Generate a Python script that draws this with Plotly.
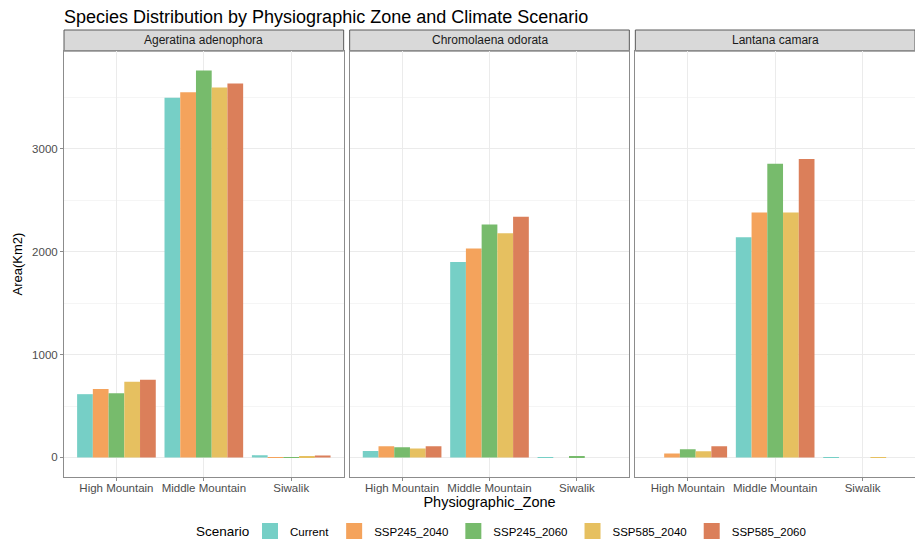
import plotly.graph_objects as go
from plotly.subplots import make_subplots

# Area (km2) by species, physiographic zone and scenario
species = ["Ageratina adenophora", "Chromolaena odorata", "Lantana camara"]
zones = ["High Mountain", "Middle Mountain", "Siwalik"]
scenarios = ["Current", "SSP245_2040", "SSP245_2060", "SSP585_2040", "SSP585_2060"]
colors = ["#76CFC6", "#F4A35C", "#77BB6C", "#E6C060", "#DB7F5A"]

# values[species][scenario] -> [High Mountain, Middle Mountain, Siwalik]
ageratina = {
    "Current":     [615, 3495, 22],
    "SSP245_2040": [665, 3550, 2],
    "SSP245_2060": [625, 3760, 2],
    "SSP585_2040": [735, 3595, 12],
    "SSP585_2060": [755, 3635, 20],
}
chromolaena = {
    "Current":     [62, 1900, 2],
    "SSP245_2040": [108, 2030, 0],
    "SSP245_2060": [98, 2265, 6],
    "SSP585_2040": [88, 2180, 0],
    "SSP585_2060": [108, 2340, 0],
}
lantana = {
    "Current":     [0, 2140, 3],
    "SSP245_2040": [38, 2380, 0],
    "SSP245_2060": [80, 2855, 0],
    "SSP585_2040": [60, 2380, 3],
    "SSP585_2060": [108, 2900, 0],
}
data = [ageratina, chromolaena, lantana]

W, H = 915, 540
ML, MR, MT, MB = 64, 0, 51, 63
plot_w = W - ML - MR
plot_h = H - MT - MB

fig = make_subplots(rows=1, cols=3, shared_yaxes=True, horizontal_spacing=6 / plot_w)

for c, sp in enumerate(data, start=1):
    for s, col in zip(scenarios, colors):
        fig.add_trace(
            go.Bar(
                x=zones, y=sp[s], name=s, marker_color=col,
                marker_line_width=0, legendgroup=s, showlegend=False,
            ),
            row=1, col=c,
        )

# legend keys: filled squares, one per scenario
for s, col in zip(scenarios, colors):
    fig.add_trace(
        go.Scatter(
            x=[None], y=[None], mode="markers", name=s, legendgroup=s,
            marker=dict(symbol="square", size=16, color=col),
            showlegend=True,
        ),
        row=1, col=1,
    )

tick_font = dict(family="Liberation Sans, Arial", size=11.5, color="#4D4D4D")
for c in range(1, 4):
    fig.update_xaxes(
        row=1, col=c, type="category", range=[-0.6, 2.6],
        showgrid=True, gridcolor="#EBEBEB", gridwidth=1,
        showline=True, mirror=True, linecolor="#8C8C8C", linewidth=1,
        ticks="outside", ticklen=3, tickcolor="#8C8C8C", tickfont=tick_font,
        ticklabelstandoff=-3, zeroline=False,
    )
    fig.update_yaxes(
        row=1, col=c, range=[-190, 3950], dtick=1000,
        showgrid=True, gridcolor="#EBEBEB", gridwidth=1,
        minor=dict(dtick=500, showgrid=True, gridcolor="#F5F5F5", gridwidth=1),
        showline=True, mirror=True, linecolor="#8C8C8C", linewidth=1,
        ticks="outside" if c == 1 else "", ticklen=3, tickcolor="#8C8C8C",
        tickfont=tick_font, zeroline=False,
    )

fig.update_yaxes(title=dict(text="Area(Km2)", font=dict(size=13, color="black"), standoff=6), row=1, col=1)
fig.update_xaxes(title=dict(text="Physiographic_Zone", font=dict(size=14.5, color="black"), standoff=0), row=1, col=2)

# facet strips
strip_h = 21 / plot_h
for c, name in enumerate(species, start=1):
    xa = fig.layout["xaxis" if c == 1 else f"xaxis{c}"]
    x0, x1 = xa.domain
    fig.add_shape(
        type="rect", xref="paper", yref="paper", x0=x0, x1=x1, y0=1, y1=1 + strip_h,
        fillcolor="#D9D9D9", line=dict(color="#5A5A5A", width=1), layer="below",
    )
    fig.add_annotation(
        text=name, xref="paper", yref="paper", x=(x0 + x1) / 2, y=1 + strip_h / 2,
        xanchor="center", yanchor="middle", showarrow=False,
        font=dict(size=12, color="#1A1A1A"),
    )

# legend title, placed beside the keys
legend_y = -54 / plot_h
fig.add_annotation(
    text="Scenario", xref="paper", yref="paper", x=(250 - ML) / plot_w, y=legend_y,
    xanchor="right", yanchor="middle", showarrow=False, borderpad=0,
    font=dict(size=13.5, color="black"),
)

fig.update_layout(
    width=W, height=H,
    margin=dict(l=ML, r=MR, t=MT, b=MB, autoexpand=False),
    paper_bgcolor="white", plot_bgcolor="white",
    font=dict(family="Liberation Sans, Arial", color="black"),
    title=dict(
        text="Species Distribution by Physiographic Zone and Climate Scenario",
        x=64 / W, xanchor="left", y=1 - 17 / H, yanchor="middle",
        font=dict(size=18, color="black"),
    ),
    barmode="group", bargap=0.1, bargroupgap=0,
    legend=dict(
        orientation="h", x=(250 - ML) / plot_w, xanchor="left", y=legend_y, yanchor="middle",
        bgcolor="rgba(0,0,0,0)",
        font=dict(size=11.5, color="black"), itemwidth=30, tracegroupgap=0,
    ),
)

fig.write_html("out.html")
